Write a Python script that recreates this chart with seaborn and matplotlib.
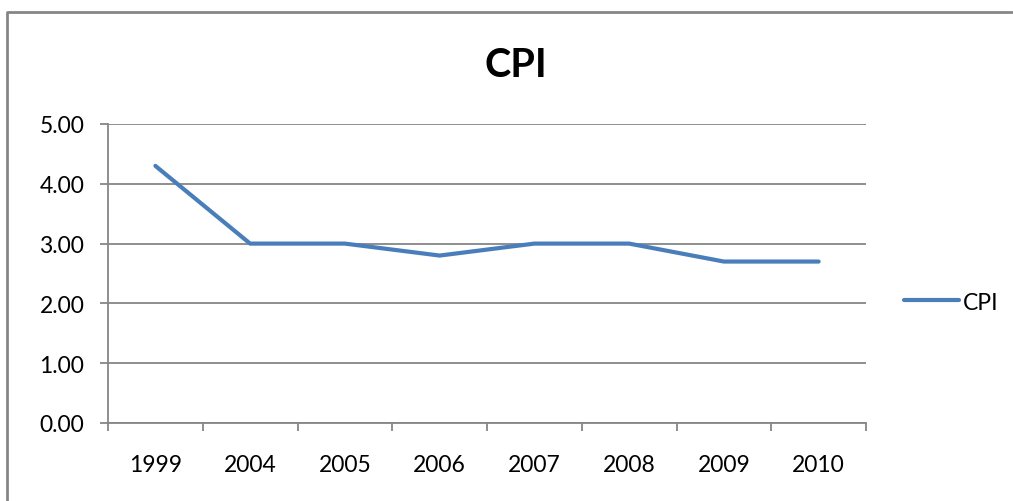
#!/usr/bin/env python3
import matplotlib
matplotlib.use('Agg')
from matplotlib import pyplot as plt
from matplotlib.lines import Line2D
from matplotlib.ticker import FixedLocator, MultipleLocator
import pandas as pd
import seaborn as sns

years = ['1999', '2004', '2005', '2006', '2007', '2008', '2009', '2010']
cpi = [4.3, 3.0, 3.0, 2.8, 3.0, 3.0, 2.7, 2.7]

W, H = 1013, 502
grey = '#868686'

sns.set_style('white')
plt.rcParams['font.family'] = ['Lato', 'DejaVu Sans']
plt.rcParams['text.color'] = 'black'

df = pd.DataFrame({'year': years, 'CPI': cpi})

fig = plt.figure(figsize=(W / 100, H / 100), dpi=100)
ax = fig.add_axes([108 / W, 1 - 424 / H, (866 - 108) / W, (424 - 125) / H])

sns.lineplot(data=df, x='year', y='CPI', sort=False, color='#4A7EBB',
             linewidth=3.0, label='CPI', ax=ax)

ax.set_xlim(-0.5, len(years) - 0.5)
ax.set_ylim(0, 5)
ax.yaxis.set_major_locator(MultipleLocator(1))
ax.set_yticklabels([f'{v:.2f}' for v in ax.get_yticks()])
ax.xaxis.set_minor_locator(FixedLocator([i - 0.5 for i in range(len(years) + 1)]))
ax.set_xlabel('')
ax.set_ylabel('')

ax.grid(axis='y', color=grey, linewidth=1.3)
ax.grid(axis='x', visible=False)
ax.set_axisbelow(True)
for side in ['top', 'right']:
    ax.spines[side].set_visible(False)
for side in ['left', 'bottom']:
    ax.spines[side].set_color(grey)
    ax.spines[side].set_linewidth(1.3)

ax.tick_params(axis='x', which='major', length=0, pad=22, labelsize=16.5, colors='black')
ax.tick_params(axis='x', which='minor', length=6, width=1.3, color=grey, direction='out', bottom=True)
ax.tick_params(axis='y', length=6, width=1.3, color=grey, direction='out', left=True,
               pad=11, labelsize=16.5, labelcolor='black')

fig.text(516 / W, 1 - 77 / H, 'CPI', ha='center', va='baseline',
         fontsize=28.5, fontweight='bold', color='black')

ax.legend(loc='center left', bbox_to_anchor=(904 / W, 1 - 303 / H),
          bbox_transform=fig.transFigure, frameon=False, fontsize=16.5,
          handlelength=2.4, handletextpad=0.15, borderpad=0, borderaxespad=0)

# chart border (top and left edges visible)
fig.add_artist(Line2D([7 / W, 7 / W, 1012 / W], [0, 1 - 13 / H, 1 - 13 / H],
                      transform=fig.transFigure, color=grey, linewidth=2))

plt.savefig('out.png', dpi=100)
